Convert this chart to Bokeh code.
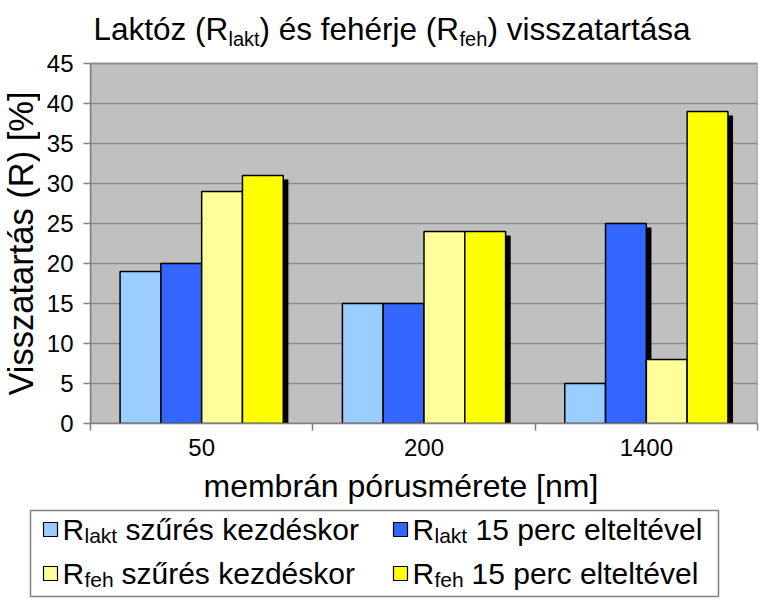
import math
from bokeh.plotting import figure
from bokeh.models import Range1d, FixedTicker
from bokeh.layouts import column, row
from bokeh.embed import file_html
from bokeh.resources import INLINE
from bokeh.core.properties import value

# ---------------- data ----------------
categories = ["50", "200", "1400"]
lakt_start = [19, 15, 5]    # R_lakt szűrés kezdéskor
lakt_15 = [20, 15, 25]      # R_lakt 15 perc elteltével
feh_start = [29, 24, 8]     # R_feh szűrés kezdéskor
feh_15 = [31, 24, 39]       # R_feh 15 perc elteltével
series = [lakt_start, lakt_15, feh_start, feh_15]
colors = ["#99CCFF", "#3366FF", "#FFFF99", "#FFFF00"]
y_ticks = [0, 5, 10, 15, 20, 25, 30, 35, 40, 45]
x_label = "membrán pórusmérete [nm]"
y_label = "Visszatartás (R) [%]"

FONT = "Liberation Sans"
W = 764
BL = 11              # baseline compensation for text glyphs (pixels)
NC = len(categories)
YMAX = 45

# layout in pixels
YLW = 40              # width of the y-label strip
FL, FR = 90, 757      # frame left/right (page pixels)
PT, FB = 63, 423      # top of the grey plot area / bottom of frame
MB = 44               # bottom border of main figure
MH = FB + MB          # main figure height
PXY = (FB - PT) / YMAX  # pixels per value unit


def X(px):
    return (px - FL) * NC / (FR - FL)


def Y(py):
    return (FB - py) / PXY


# ---------------- y label strip ----------------
yf = figure(width=YLW, height=MH, x_range=Range1d(0, YLW), y_range=Range1d(MH, 0),
            x_axis_type=None, y_axis_type=None, toolbar_location=None,
            output_backend="svg", min_border=0)
yf.grid.visible = False
yf.outline_line_color = None
yf.text(x=[20], y=[(PT + FB) / 2], text=[y_label], angle=math.pi / 2,
        text_font=value(FONT), text_font_size="34.5px", text_align="center",
        text_baseline="middle", text_color="black")

# ---------------- main chart (frame extends up to hold the title) ----------------
p = figure(width=W - YLW, height=MH, x_range=Range1d(0, NC), y_range=Range1d(0, FB / PXY),
           toolbar_location=None, output_backend="svg",
           min_border_left=FL - YLW, min_border_right=W - FR, min_border_top=0,
           min_border_bottom=MB)
p.background_fill_color = "white"
p.border_fill_color = "white"
p.outline_line_color = None

# grey plot area
p.quad(left=[0], right=[NC], bottom=[0], top=[YMAX], fill_color="#C0C0C0",
       line_color="#808080", line_width=1.5, level="image")

bw = 0.1835
dx = 0.023   # shadow offset (x, category units)
dy = 0.5     # shadow offset (y, value units)

for k, vals in enumerate(series):
    xc = [i + 0.5 + (k - 1.5) * bw for i in range(NC)]
    p.quad(left=[c - bw / 2 + dx for c in xc], right=[c + bw / 2 + dx for c in xc],
           top=[v - dy for v in vals], bottom=[0] * len(vals),
           fill_color="black", line_color=None)
for k, vals in enumerate(series):
    xc = [i + 0.5 + (k - 1.5) * bw for i in range(NC)]
    p.quad(left=[c - bw / 2 for c in xc], right=[c + bw / 2 for c in xc],
           top=vals, bottom=[0] * len(vals),
           fill_color=colors[k], line_color="black", line_width=1.5)

p.xgrid.visible = False
p.ygrid.ticker = FixedTicker(ticks=y_ticks)
p.ygrid.grid_line_color = "#8C8C8C"
p.ygrid.grid_line_width = 1.5

xa = p.xaxis[0]
xa.ticker = FixedTicker(ticks=[i + 0.5 for i in range(NC)],
                        minor_ticks=list(range(NC + 1)))
xa.major_label_overrides = {i + 0.5: c for i, c in enumerate(categories)}
xa.major_tick_out = 0
xa.major_tick_in = 0
xa.minor_tick_out = 7
xa.minor_tick_in = 0
xa.minor_tick_line_color = "#808080"
xa.minor_tick_line_width = 1.5
xa.axis_line_color = "#808080"
xa.axis_line_width = 1.5
xa.major_label_text_font = FONT
xa.major_label_text_font_size = "24px"
xa.major_label_text_color = "black"
xa.major_label_standoff = 8

ya = p.yaxis[0]
ya.ticker = FixedTicker(ticks=y_ticks, minor_ticks=[])
ya.bounds = (0, YMAX)
ya.major_tick_out = 7
ya.major_tick_in = 0
ya.major_tick_line_color = "#808080"
ya.major_tick_line_width = 1.5
ya.axis_line_color = "#808080"
ya.axis_line_width = 1.5
ya.major_label_text_font = FONT
ya.major_label_text_font_size = "24px"
ya.major_label_text_color = "black"
ya.major_label_standoff = 10

# title (inside the extended frame, above the grey area)
title_parts = [
    (93, 39, "Laktóz (R", "31.5px"),
    (228, 49, "lakt", "20px"),
    (259, 39, ") és fehérje (R", "31.5px"),
    (459, 49, "feh", "20px"),
    (487, 39, ") visszatartása", "31.5px"),
]
for x, y, t, fs in title_parts:
    p.text(x=[X(x)], y=[Y(y - BL)], text=[t], text_font=value(FONT), text_font_size=fs,
           text_align="left", text_baseline="alphabetic", text_color="black")

# ---------------- x label + legend ----------------
LY0 = MH
LH = 600 - LY0
lf = figure(width=W, height=LH, x_range=Range1d(0, W), y_range=Range1d(600, LY0),
            x_axis_type=None, y_axis_type=None, toolbar_location=None,
            output_backend="svg", min_border=0)
lf.grid.visible = False
lf.outline_line_color = None


def txt(f, px, py, t, size):
    f.text(x=[px], y=[py - BL], text=[t], text_font=value(FONT), text_font_size=size,
           text_align="left", text_baseline="alphabetic", text_color="black")


txt(lf, 203, 496, x_label, "32px")

lf.quad(left=[30], right=[718], top=[510], bottom=[596], fill_color="white",
        line_color="#808080", line_width=1.5)

legend_items = [
    # (swatch x, row centre y, color, sub, rest, sub x, rest x)
    (43, 529, colors[0], "lakt", "szűrés kezdéskor", 84, 125),
    (393, 529, colors[1], "lakt", "15 perc elteltével", 434, 475),
    (43, 573, colors[2], "feh", "szűrés kezdéskor", 84, 121),
    (393, 573, colors[3], "feh", "15 perc elteltével", 434, 471),
]
for sx, ry, col, sub, rest, subx, restx in legend_items:
    lf.quad(left=[sx], right=[sx + 14], top=[ry - 7], bottom=[ry + 7],
            fill_color=col, line_color="black", line_width=1.2)
    txt(lf, sx + 19, ry + 11, "R", "30px")
    txt(lf, subx, ry + 17, sub, "21px")
    txt(lf, restx, ry + 11, rest, "30px")

layout = column(row(column(yf), p, spacing=0), row(lf), spacing=0)
open("out.html", "w").write(file_html(layout, INLINE))
